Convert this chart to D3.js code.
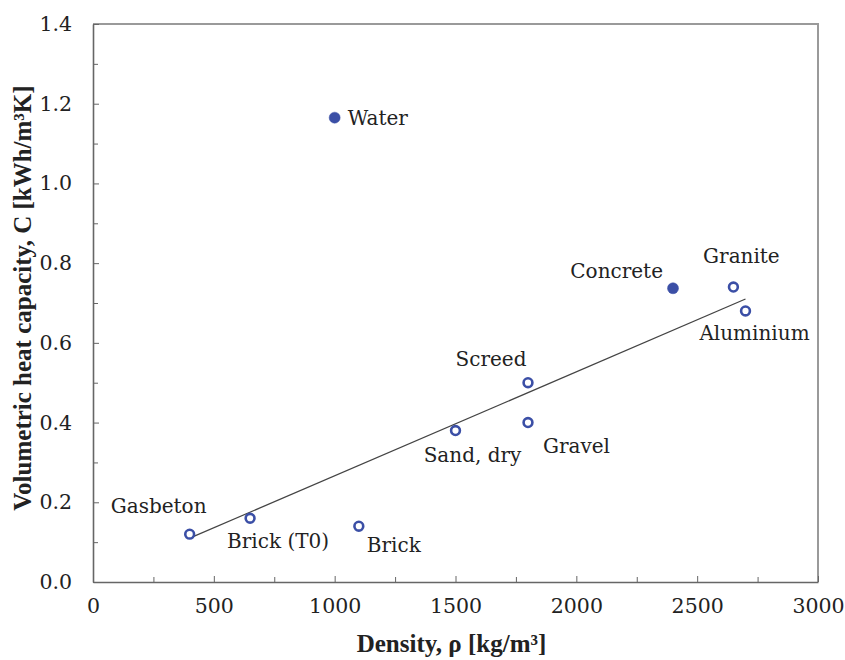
<!DOCTYPE html>
<html lang="en">
<head>
<meta charset="utf-8">
<title>Volumetric heat capacity vs density</title>
<script src="https://cdn.jsdelivr.net/npm/d3@7"></script>
<style>
  body { margin: 0; background: #fff; }
  .tick text { fill: #222; }
</style>
</head>
<body>
<div id="chart"></div>
<script>
// materials, density [kg/m3], volumetric heat capacity [kWh/m3K]
const materials = ["Water", "Concrete", "Granite", "Aluminium", "Screed", "Gravel", "Sand, dry", "Gasbeton", "Brick (T0)", "Brick"];
const density   = [1000, 2400, 2650, 2700, 1800, 1800, 1500, 400, 650, 1100];
const heatCap   = [1.165, 0.737, 0.74, 0.68, 0.5, 0.40, 0.38, 0.12, 0.16, 0.14];
const filled    = [true, true, false, false, false, false, false, false, false, false];

// linear trend line
const trendX = [400, 2700];
const trendY = [0.11, 0.71];

const xTicks = [0, 500, 1000, 1500, 2000, 2500, 3000];
const yTicks = [0, 0.2, 0.4, 0.6, 0.8, 1.0, 1.2, 1.4];

// label placement relative to each marker: [dx, dy, anchor]
const labelPos = {
  "Water":      [13, 7, "start"],
  "Concrete":   [-10, -10, "end"],
  "Granite":    [8, -24, "middle"],
  "Aluminium":  [9, 29, "middle"],
  "Screed":     [-37, -17, "middle"],
  "Gravel":     [15, 30, "start"],
  "Sand, dry":  [17, 31, "middle"],
  "Gasbeton":   [-31, -21, "middle"],
  "Brick (T0)": [-23, 30, "start"],
  "Brick":      [8, 26, "start"]
};

const width = 845, height = 660;
const margin = {top: 24, right: 27, bottom: 78, left: 93};
const innerW = width - margin.left - margin.right;
const innerH = height - margin.top - margin.bottom;
const blue = "#3b4fa6";
const serif = "'DejaVu Serif', serif";
const serifBold = "'Liberation Serif', 'DejaVu Serif', serif";

const svg = d3.select("#chart").append("svg")
  .attr("width", width)
  .attr("height", height);

const g = svg.append("g")
  .attr("transform", "translate(" + margin.left + "," + margin.top + ")");

const x = d3.scaleLinear().domain([0, 3000]).range([0, innerW]);
const y = d3.scaleLinear().domain([0, 1.4]).range([innerH, 0]);

// frame (top and right)
g.append("path")
  .attr("d", "M0,0H" + innerW + "V" + innerH)
  .attr("fill", "none")
  .attr("stroke", "#9a9a9a")
  .attr("stroke-width", 2);

// minor ticks
const xMinor = d3.range(250, 3000, 500);
const yMinor = d3.range(0.1, 1.4, 0.2);

g.append("g")
  .attr("transform", "translate(0," + innerH + ")")
  .call(d3.axisBottom(x).tickValues(xMinor).tickFormat("").tickSizeInner(-5).tickSizeOuter(0))
  .call(a => a.select(".domain").remove())
  .call(a => a.selectAll("line").attr("stroke", "#666"));

g.append("g")
  .call(d3.axisLeft(y).tickValues(yMinor).tickFormat("").tickSizeInner(-5).tickSizeOuter(0))
  .call(a => a.select(".domain").remove())
  .call(a => a.selectAll("line").attr("stroke", "#666"));

// major axes
const xAxis = g.append("g")
  .attr("transform", "translate(0," + innerH + ")")
  .call(d3.axisBottom(x).tickValues(xTicks).tickFormat(d3.format("d"))
    .tickSizeInner(-6).tickSizeOuter(0).tickPadding(16));

const yAxis = g.append("g")
  .call(d3.axisLeft(y).tickValues(yTicks).tickFormat(d3.format(".1f"))
    .tickSizeInner(-6).tickSizeOuter(0).tickPadding(21));

[xAxis, yAxis].forEach(a => {
  a.attr("font-family", serif).attr("font-size", 20.5);
  a.select(".domain").attr("stroke", "#666").attr("stroke-width", 1.6);
  a.selectAll("line").attr("stroke", "#666");
});

// trend line
g.append("path")
  .datum(trendX.map((d, i) => [d, trendY[i]]))
  .attr("d", d3.line().x(d => x(d[0])).y(d => y(d[1])))
  .attr("fill", "none")
  .attr("stroke", "#444")
  .attr("stroke-width", 1.3);

// markers
const pts = materials.map((m, i) => ({name: m, x: density[i], y: heatCap[i], filled: filled[i]}));

g.selectAll("circle.pt")
  .data(pts)
  .join("circle")
  .attr("class", "pt")
  .attr("cx", d => x(d.x))
  .attr("cy", d => y(d.y))
  .attr("r", d => d.filled ? 5.5 : 4.4)
  .attr("fill", d => d.filled ? blue : "#fff")
  .attr("stroke", blue)
  .attr("stroke-width", d => d.filled ? 0.5 : 2.6);

// labels
g.selectAll("text.lbl")
  .data(pts)
  .join("text")
  .attr("class", "lbl")
  .attr("x", d => x(d.x) + labelPos[d.name][0])
  .attr("y", d => y(d.y) + labelPos[d.name][1])
  .attr("text-anchor", d => labelPos[d.name][2])
  .attr("font-family", serif)
  .attr("font-size", 20)
  .attr("fill", "#222")
  .text(d => d.name);

// axis titles
svg.append("text")
  .attr("x", margin.left + innerW / 2 - 4)
  .attr("y", 652)
  .attr("text-anchor", "middle")
  .attr("font-family", serifBold)
  .attr("font-size", 25)
  .attr("font-weight", "bold")
  .attr("fill", "#222")
  .text("Density, ρ [kg/m³]");

svg.append("text")
  .attr("transform", "translate(31," + 298 + ") rotate(-90)")
  .attr("text-anchor", "middle")
  .attr("font-family", serifBold)
  .attr("font-size", 25)
  .attr("font-weight", "bold")
  .attr("fill", "#222")
  .text("Volumetric heat capacity, C [kWh/m³K]");
</script>
</body>
</html>
